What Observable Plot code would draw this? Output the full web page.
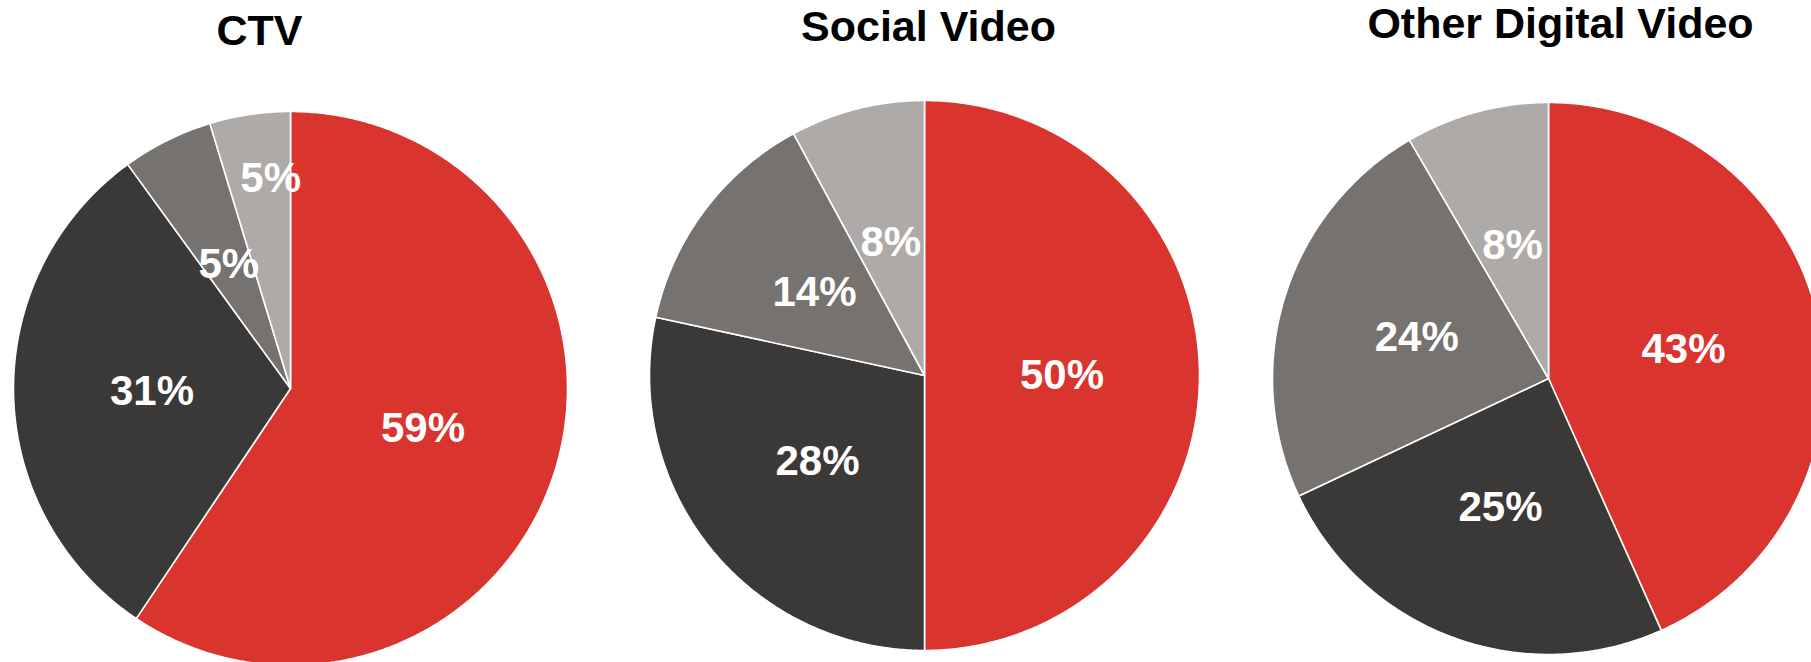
<!DOCTYPE html>
<html>
<head>
<meta charset="utf-8">
<script src="https://cdn.jsdelivr.net/npm/d3@7"></script>
<script src="https://cdn.jsdelivr.net/npm/@observablehq/plot@0.6"></script>
<style>
  html, body { margin: 0; padding: 0; background: #fff; }
</style>
</head>
<body>
<div id="chart"></div>
<script>
// ---- data (shares in %; labels are rounded) ----
const charts = ["CTV", "Social Video", "Other Digital Video"];
const segments = ["Segment 1", "Segment 2", "Segment 3", "Segment 4"];
const ctvValues = [59.4, 30.6, 5.3, 4.7];
const socialValues = [50.0, 28.4, 13.7, 7.9];
const otherValues = [43.3, 24.7, 23.6, 8.4];
const segmentColors = ["#da342f", "#3b3937", "#76726f", "#aeaaa8"];

// ---- layout (pixels) ----
const W = 1811, H = 662;
const layout = [
  {cx: 290, cy: 388, r: 277, tx: 259, ty: 44},
  {cx: 924, cy: 375, r: 275, tx: 928, ty: 40},
  {cx: 1548, cy: 378, r: 276, tx: 1560, ty: 37}
];
const valuesByChart = [ctvValues, socialValues, otherValues];

const slices = [];   // polygon vertices
const labels = [];
const titles = [];

charts.forEach((name, ci) => {
  const {cx, cy, r, tx, ty} = layout[ci];
  const vals = valuesByChart[ci];
  const total = d3.sum(vals);
  titles.push({chart: name, x: tx, y: ty});
  let a = 0;
  const placed = [];
  vals.forEach((v, si) => {
    const a0 = a, a1 = a + (v / total) * 2 * Math.PI;
    a = a1;
    const key = name + "|" + segments[si];
    slices.push({key, segment: segments[si], x: cx, y: cy});
    const n = Math.max(2, Math.ceil((a1 - a0) / (Math.PI / 360)));
    for (let k = 0; k <= n; k++) {
      const t = a0 + (a1 - a0) * k / n;
      slices.push({key, segment: segments[si], x: cx + r * Math.sin(t), y: cy - r * Math.cos(t)});
    }
    slices.push({key, segment: segments[si], x: cx, y: cy});
    // label: at half radius, pushed outward if it collides with a previous label
    let m = (a0 + a1) / 2;
    let f = 0.5;
    let lx = cx + f * r * Math.sin(m), ly = cy - f * r * Math.cos(m);
    if (placed.some(p => Math.hypot(p.x - lx, p.y - ly) < 60)) {
      f = 0.76;
      m = a0 + 0.68 * (a1 - a0);
      lx = cx + f * r * Math.sin(m); ly = cy - f * r * Math.cos(m);
    }
    placed.push({x: lx, y: ly});
    labels.push({chart: name, text: Math.round(v) + "%", x: lx, y: ly});
  });
});

const font = "Liberation Sans, Arial, Helvetica, sans-serif";

const plot = Plot.plot({
  width: W,
  height: H,
  margin: 0,
  style: {background: "#fff", overflow: "hidden"},
  x: {domain: [0, W], range: [0, W], axis: null},
  y: {domain: [0, H], range: [0, H], axis: null},
  color: {domain: segments, range: segmentColors},
  marks: [
    Plot.line(slices, {
      x: "x", y: "y", z: "key",
      fill: "segment",
      stroke: "white",
      strokeWidth: 1.6,
      strokeLinejoin: "round",
      curve: "linear"
    }),
    Plot.text(labels, {
      x: "x", y: "y", text: "text",
      fill: "white",
      fontSize: 42,
      fontWeight: "bold",
      fontFamily: font,
      textAnchor: "middle",
      lineAnchor: "middle"
    }),
    Plot.text(titles, {
      x: "x", y: "y", text: "chart",
      fill: "black",
      fontSize: 43,
      fontWeight: "bold",
      fontFamily: font,
      textAnchor: "middle",
      lineAnchor: "bottom"
    })
  ]
});
document.getElementById("chart").appendChild(plot);
</script>
</body>
</html>
